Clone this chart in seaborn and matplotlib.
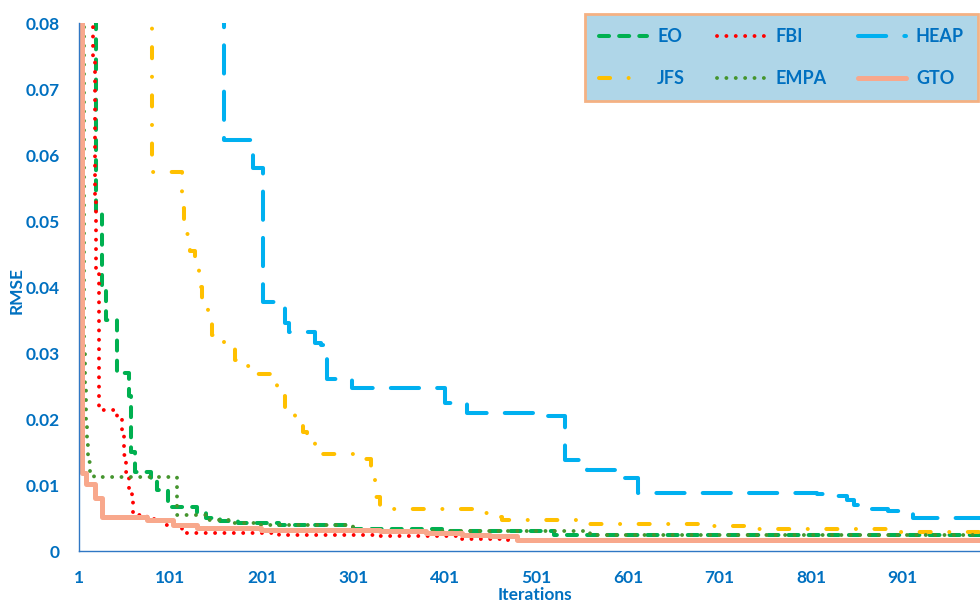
import numpy as np
import pandas as pd
import matplotlib
matplotlib.use("Agg")
import matplotlib.pyplot as plt
import seaborn as sns

sns.set_theme(style="white")
plt.rcParams['font.family'] = ['Lato', 'DejaVu Sans']

# ---------------- data (step curves: iteration where value changes) ----------------
eo_iter = [1, 20, 26, 30, 42, 56, 58, 62, 80, 86, 98, 130, 140, 155, 175, 220, 300, 400, 520, 1000]
eo_rmse = [0.3, 0.0514, 0.040, 0.035, 0.027, 0.0235, 0.015, 0.012, 0.011, 0.0092, 0.0066, 0.0058,
           0.0050, 0.0045, 0.0042, 0.0040, 0.0034, 0.0030, 0.0025, 0.0024]

fbi_iter = [1, 16, 18, 20, 23, 42, 48, 50, 52, 56, 59, 60, 75, 92, 114, 220, 330, 420, 470, 1000]
fbi_rmse = [0.3, 0.075, 0.053, 0.042, 0.0214, 0.0205, 0.018, 0.0145, 0.012, 0.0095, 0.0075, 0.0055,
            0.0048, 0.0039, 0.0027, 0.0024, 0.0022, 0.0018, 0.0016, 0.0016]

heap_iter = [1, 160, 191, 202, 226, 231, 259, 266, 272, 299, 401, 425, 508, 532, 556, 587, 612,
             808, 827, 840, 848, 858, 885, 902, 912, 1000]
heap_rmse = [0.3, 0.0623, 0.058, 0.0377, 0.0345, 0.0332, 0.0315, 0.0312, 0.026, 0.0247, 0.0224,
             0.0209, 0.0205, 0.0138, 0.0123, 0.011, 0.0088, 0.0087, 0.0083, 0.0077, 0.0070,
             0.0064, 0.0060, 0.0058, 0.0050, 0.0050]

jfs_iter = [1, 81, 114, 116, 122, 128, 132, 135, 142, 146, 160, 172, 180, 196, 212, 217, 226, 237,
            246, 250, 259, 308, 320, 325, 330, 436, 450, 463, 560, 691, 742, 898, 1000]
jfs_rmse = [0.3, 0.0574, 0.052, 0.048, 0.0455, 0.043, 0.040, 0.038, 0.035, 0.0327, 0.031, 0.029,
            0.028, 0.0268, 0.0264, 0.0235, 0.021, 0.0195, 0.018, 0.017, 0.0147, 0.014, 0.011,
            0.0082, 0.0064, 0.0058, 0.0052, 0.0047, 0.0041, 0.0038, 0.0033, 0.0029, 0.0029]

empa_iter = [1, 6, 8, 9, 10, 11, 13, 17, 108, 140, 170, 200, 300, 560, 1000]
empa_rmse = [0.3, 0.030, 0.025, 0.020, 0.016, 0.0135, 0.012, 0.0112, 0.0055, 0.0047, 0.0042,
             0.0040, 0.0031, 0.0025, 0.0025]

gto_iter = [1, 4, 9, 18, 26, 75, 104, 130, 200, 330, 380, 420, 450, 480, 1000]
gto_rmse = [0.3, 0.0118, 0.0102, 0.008, 0.0052, 0.0047, 0.0040, 0.0035, 0.0032, 0.0030, 0.0027,
            0.0025, 0.0022, 0.0017, 0.0017]

series_names = ["EO", "FBI", "HEAP", "JFS", "EMPA", "GTO"]
x_ticks = [1, 101, 201, 301, 401, 501, 601, 701, 801, 901]
y_ticks = [0, 0.01, 0.02, 0.03, 0.04, 0.05, 0.06, 0.07, 0.08]
y_tick_labels = ["0", "0.01", "0.02", "0.03", "0.04", "0.05", "0.06", "0.07", "0.08"]

data = {
    "EO": (eo_iter, eo_rmse),
    "FBI": (fbi_iter, fbi_rmse),
    "HEAP": (heap_iter, heap_rmse),
    "JFS": (jfs_iter, jfs_rmse),
    "EMPA": (empa_iter, empa_rmse),
    "GTO": (gto_iter, gto_rmse),
}
df = pd.concat([pd.DataFrame({"series": k, "iteration": v[0], "rmse": v[1]}) for k, v in data.items()],
               ignore_index=True)

styles = {
    "EO":   dict(color="#00B050", lw=2.9, linestyle=(0, (2.5, 2.5))),
    "FBI":  dict(color="#FF0000", lw=2.8, linestyle=(0, (0.01, 2.4))),
    "HEAP": dict(color="#00B0F0", lw=2.9, linestyle=(0, (7, 4.5))),
    "JFS":  dict(color="#FFC000", lw=2.9, linestyle=(0, (2.75, 4.6, 0.01, 4.6))),
    "EMPA": dict(color="#45952E", lw=2.8, linestyle=(0, (0.01, 2.4))),
    "GTO":  dict(color="#F8A88C", lw=3.6, linestyle="-"),
}

blue = "#0070C0"

fig = plt.figure(figsize=(9.8, 6.03), dpi=100)
ax = fig.add_axes([79 / 980, 52 / 603, 901 / 980, 528 / 603])

handles = {}
for name in series_names:
    sub = df[df["series"] == name]
    n_before = len(ax.lines)
    sns.lineplot(data=sub, x="iteration", y="rmse", ax=ax, estimator=None, errorbar=None,
                 drawstyle="steps-post", dash_capstyle="round", solid_capstyle="round",
                 legend=False, **styles[name])
    handles[name] = ax.lines[n_before]

ax.set_xlim(1, 985.7)
ax.set_ylim(0, 0.08)
ax.set_xticks(x_ticks)
ax.set_xticklabels([str(t) for t in x_ticks])
ax.set_yticks(y_ticks)
ax.set_yticklabels(y_tick_labels)
ax.tick_params(axis="both", length=0, labelsize=12.5, labelcolor=blue)
ax.tick_params(axis="y", pad=14)
ax.tick_params(axis="x", pad=14)
for lab in ax.get_xticklabels() + ax.get_yticklabels():
    lab.set_fontweight("bold")

for s in ["top", "right"]:
    ax.spines[s].set_visible(False)
for s in ["left", "bottom"]:
    ax.spines[s].set_color("#2F77C4")
    ax.spines[s].set_linewidth(1.0)

ax.set_xlabel("Iterations", fontsize=12.5, fontweight="bold", color=blue)
ax.set_ylabel("RMSE", fontsize=12.5, fontweight="bold", color=blue)
ax.xaxis.set_label_coords(0.506, -0.068)
ax.yaxis.set_label_coords(-0.060, 0.494)

# legend filled row-wise like the reference (matplotlib fills column-wise)
leg_order = ["EO", "JFS", "FBI", "EMPA", "HEAP", "GTO"]
leg = fig.legend([handles[n] for n in leg_order], leg_order, ncol=3, loc="upper left",
                 bbox_to_anchor=(585 / 980, 1 - 100 / 603, 393 / 980, 86 / 603), mode="expand",
                 borderaxespad=0.0,
                 prop={"weight": "bold", "size": 13}, labelcolor=blue,
                 handlelength=2.67, handletextpad=0.55, borderpad=0.78, labelspacing=1.38,
                 columnspacing=1.5, fancybox=False, framealpha=1.0,
                 facecolor="#AFD6E8", edgecolor="#F4B183")
leg.get_frame().set_linewidth(2.0)

fig.savefig("out.png", dpi=100)
